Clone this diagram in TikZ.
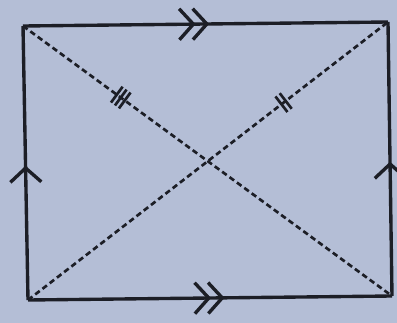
\documentclass[tikz,border=0pt]{standalone}
\usetikzlibrary{arrows.meta,decorations.markings}
\definecolor{bgblue}{RGB}{180,190,214}
\definecolor{ink}{RGB}{28,30,38}

\begin{document}
\begin{tikzpicture}[x=0.025cm, y=-0.025cm,
  edgeline/.style={ink, line width=2.4pt},
  diagline/.style={ink, line width=1.9pt, dash pattern=on 4pt off 2.5pt},
  chevron/.style={decoration={markings, mark=at position #1 with {\arrow[ink,line width=2.4pt]{Straight Barb[length=10pt,width=22pt]}}}, postaction=decorate},
  twochevron/.style={decoration={markings,
      mark=at position #1 with {\arrow[ink,line width=2.4pt]{Straight Barb[length=10pt,width=22pt]}},
      mark=at position #1-0.037 with {\arrow[ink,line width=2.4pt]{Straight Barb[length=10pt,width=22pt]}}}, postaction=decorate}]
\fill[bgblue] (0,0) rectangle (397,323);
\useasboundingbox (0,0) rectangle (397,323);
% corners
\coordinate (TL) at (23,26);
\coordinate (TR) at (388,22);
\coordinate (BL) at (28,300);
\coordinate (BR) at (392,296);
% sides
\draw[edgeline, twochevron=0.51] (TL) -- (TR);
\draw[edgeline, twochevron=0.54] (BL) -- (BR);
\draw[edgeline, chevron=0.49] (BL) -- (TL);
\draw[edgeline, chevron=0.49] (BR) -- (TR);
% diagonals with equal-length ticks
\draw[diagline, decoration={markings, mark=at position 0.265 with {
    \foreach \d in {-3.5pt,0pt,3.5pt} \draw[solid, line width=1.9pt] (\d,-7pt) -- (\d,7pt);}},
  postaction=decorate] (TL) -- (BR);
\draw[diagline, decoration={markings, mark=at position 0.71 with {
    \foreach \d in {-1.9pt,1.9pt} \draw[solid, line width=1.9pt] (\d,-7pt) -- (\d,7pt);}},
  postaction=decorate] (BL) -- (TR);
\end{tikzpicture}
\end{document}
